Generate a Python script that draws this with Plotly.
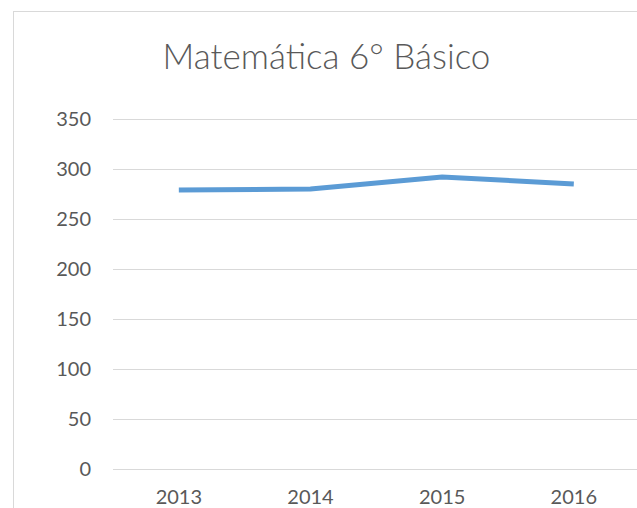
import plotly.graph_objects as go

years = ["2013", "2014", "2015", "2016"]
scores = [279, 280, 292, 285]
y_ticks = [0, 50, 100, 150, 200, 250, 300, 350]
title_text = "Matemática 6° Básico"

text_color = "#595959"
grid_color = "#d9d9d9"
line_color = "#5b9bd5"

fig = go.Figure()
fig.add_trace(go.Scatter(
    x=years, y=scores, mode="lines",
    line=dict(color=line_color, width=5),
    hoverinfo="x+y", showlegend=False,
))

fig.update_layout(
    width=637, height=508,
    margin=dict(l=113, r=0, t=113, b=37, pad=0, autoexpand=False),
    paper_bgcolor="white", plot_bgcolor="white",
    font=dict(family="Lato, 'Open Sans', sans-serif", color=text_color),
    title=dict(
        text=title_text,
        x=326.5 / 637, xanchor="center", xref="container",
        y=1 - 57 / 508, yanchor="middle", yref="container",
        font=dict(size=35, color=text_color, family="Lato, 'Open Sans', sans-serif", weight=300),
    ),
    xaxis=dict(
        type="category", range=[-0.5, 3.48], automargin=False,
        showgrid=False, zeroline=False, showline=False,
        ticks="", tickfont=dict(size=20, color=text_color),
        ticklabelstandoff=12,
    ),
    yaxis=dict(
        range=[-2, 356], tickvals=y_ticks, automargin=False,
        showgrid=True, gridcolor=grid_color, gridwidth=1.3,
        zeroline=False, showline=False,
        ticks="", tickfont=dict(size=20, color=text_color),
        ticklabelstandoff=21,
    ),
)

# chart-area border (left and top edges only, as in the reference)
border_css = (
    "var d=document.getElementsByClassName('plotly-graph-div')[0];"
    "document.body.style.margin='0';document.body.style.overflow='hidden';"
    "var b=document.createElement('div');"
    "b.style.cssText='position:absolute;left:13px;top:11px;width:700px;height:600px;"
    "border-left:1px solid #d9d9d9;border-top:1px solid #d9d9d9;pointer-events:none;';"
    "document.body.appendChild(b);"
)

fig.write_html(
    "out.html",
    config={"displayModeBar": False},
    post_script=border_css,
)
